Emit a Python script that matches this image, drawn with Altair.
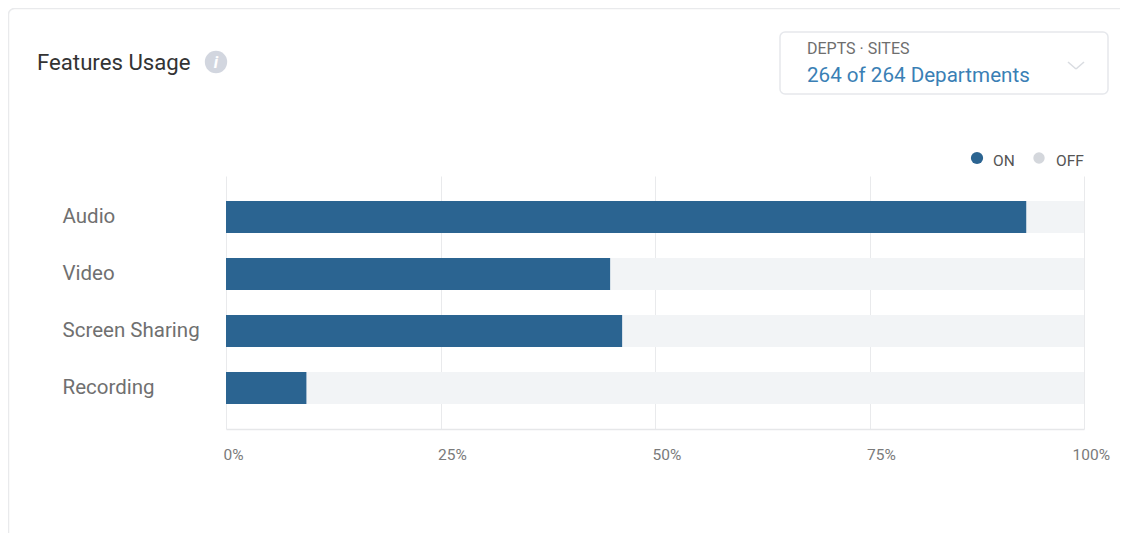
import altair as alt
import pandas as pd

features = ["Audio", "Video", "Screen Sharing", "Recording"]
on_values = [93.3, 44.8, 46.2, 9.4]
off_values = [6.7, 55.2, 53.8, 90.6]
tick_values = [0, 25, 50, 75, 100]
legend_labels = ["ON", "OFF"]
title_text = "Features Usage"
select_label = "DEPTS · SITES"
select_value = "264 of 264 Departments"

FONT = "Roboto"
PL, PT = 226, 176  # plot origin in page pixels (page margin = 8)
W, H = 858, 253


def px(x):
    return x - PL


def py(y):
    return y - PT


rows = []
for f, a, b in zip(features, on_values, off_values):
    rows.append({"feature": f, "status": "ON", "value": a, "rank": 0})
    rows.append({"feature": f, "status": "OFF", "value": b, "rank": 1})
df = pd.DataFrame(rows)
one = pd.DataFrame({"a": [0]})

bars = (
    alt.Chart(df)
    .mark_bar()
    .encode(
        x=alt.X(
            "value:Q",
            stack="zero",
            scale=alt.Scale(domain=[0, 100], nice=False),
            title=None,
            axis=alt.Axis(
                values=tick_values,
                labelExpr="datum.value + '%'",
                labelAlign="left",
                labelOffset=alt.expr("datum.value == 100 ? -12 : -3"),
                labelBound=False,
                labelFlush=False,
                labelOverlap=False,
                labelFont=FONT,
                labelFontSize=15.5,
                labelColor="#7a7a7a",
                labelPadding=18,
                ticks=False,
                domainColor="#e6e7e9",
                domainWidth=1.5,
                grid=True,
                gridColor="#e9eaec",
            ),
        ),
        y=alt.Y(
            "feature:N",
            sort=features,
            scale=alt.Scale(paddingInner=0.44, paddingOuter=0.44),
            title=None,
            axis=alt.Axis(
                labelAlign="left",
                labelPadding=164,
                labelFont=FONT,
                labelFontSize=20.5,
                labelColor="#707070",
                ticks=False,
                domain=False,
                grid=False,
            ),
        ),
        color=alt.Color(
            "status:N",
            scale=alt.Scale(domain=legend_labels, range=["#2b6491", "#f2f4f6"]),
            legend=None,
        ),
        order=alt.Order("rank:Q"),
    )
)


def text(t, x, y, size, color, **kw):
    return (
        alt.Chart(one)
        .mark_text(text=t, font=FONT, fontSize=size, color=color, align=kw.pop("align", "left"), baseline="middle", **kw)
        .encode(x=alt.value(px(x)), y=alt.value(py(y)))
    )


def box(x1, y1, x2, y2, radius, stroke):
    return (
        alt.Chart(one)
        .mark_rect(fill="transparent", stroke=stroke, strokeWidth=1.5, cornerRadius=radius)
        .encode(x=alt.value(px(x1)), x2=alt.value(px(x2)), y=alt.value(py(y1)), y2=alt.value(py(y2)))
    )


def seg(x1, y1, x2, y2, color):
    return (
        alt.Chart(one)
        .mark_rule(color=color, strokeWidth=1.5)
        .encode(x=alt.value(px(x1)), x2=alt.value(px(x2)), y=alt.value(py(y1)), y2=alt.value(py(y2)))
    )


def dot(x, y, size, color):
    return (
        alt.Chart(one)
        .mark_point(shape="circle", filled=True, opacity=1, size=size, color=color)
        .encode(x=alt.value(px(x)), y=alt.value(py(y)))
    )


card = box(8.5, 8.5, 1160, 580, 6, "#e9eaec")
layers = [
    card,
    bars,
    text(title_text, 37, 63, 22.2, "#333333"),
    dot(216, 62, 500, "#d2d6df"),
    text("i", 216, 63, 17, "#ffffff", align="center", fontStyle="italic", fontWeight="bold"),
    box(780, 32, 1108, 94, 5, "#e6e8ec"),
    text(select_label, 807, 49, 16, "#6e6e6e"),
    text(select_value, 807, 76, 20.6, "#3a7fb5"),
    seg(1068, 62, 1076, 69, "#d9dce1"),
    seg(1076, 69, 1084, 62, "#d9dce1"),
    dot(977, 158, 150, "#2b6491"),
    text(legend_labels[0], 993, 161, 15.5, "#555555"),
    dot(1039, 158, 130, "#d4d7dc"),
    text(legend_labels[1], 1056, 161, 15.5, "#555555"),
]

chart = (
    alt.layer(*layers)
    .properties(
        width=W,
        height=H,
        autosize="none",
        padding={"left": PL - 8, "top": PT - 8, "right": 1112 - (PL - 8) - W, "bottom": 525 - (PT - 8) - H},
        background="white",
    )
    .configure_view(stroke=None)
)

chart.save("out.html", embed_options={"renderer": "svg", "actions": False})
